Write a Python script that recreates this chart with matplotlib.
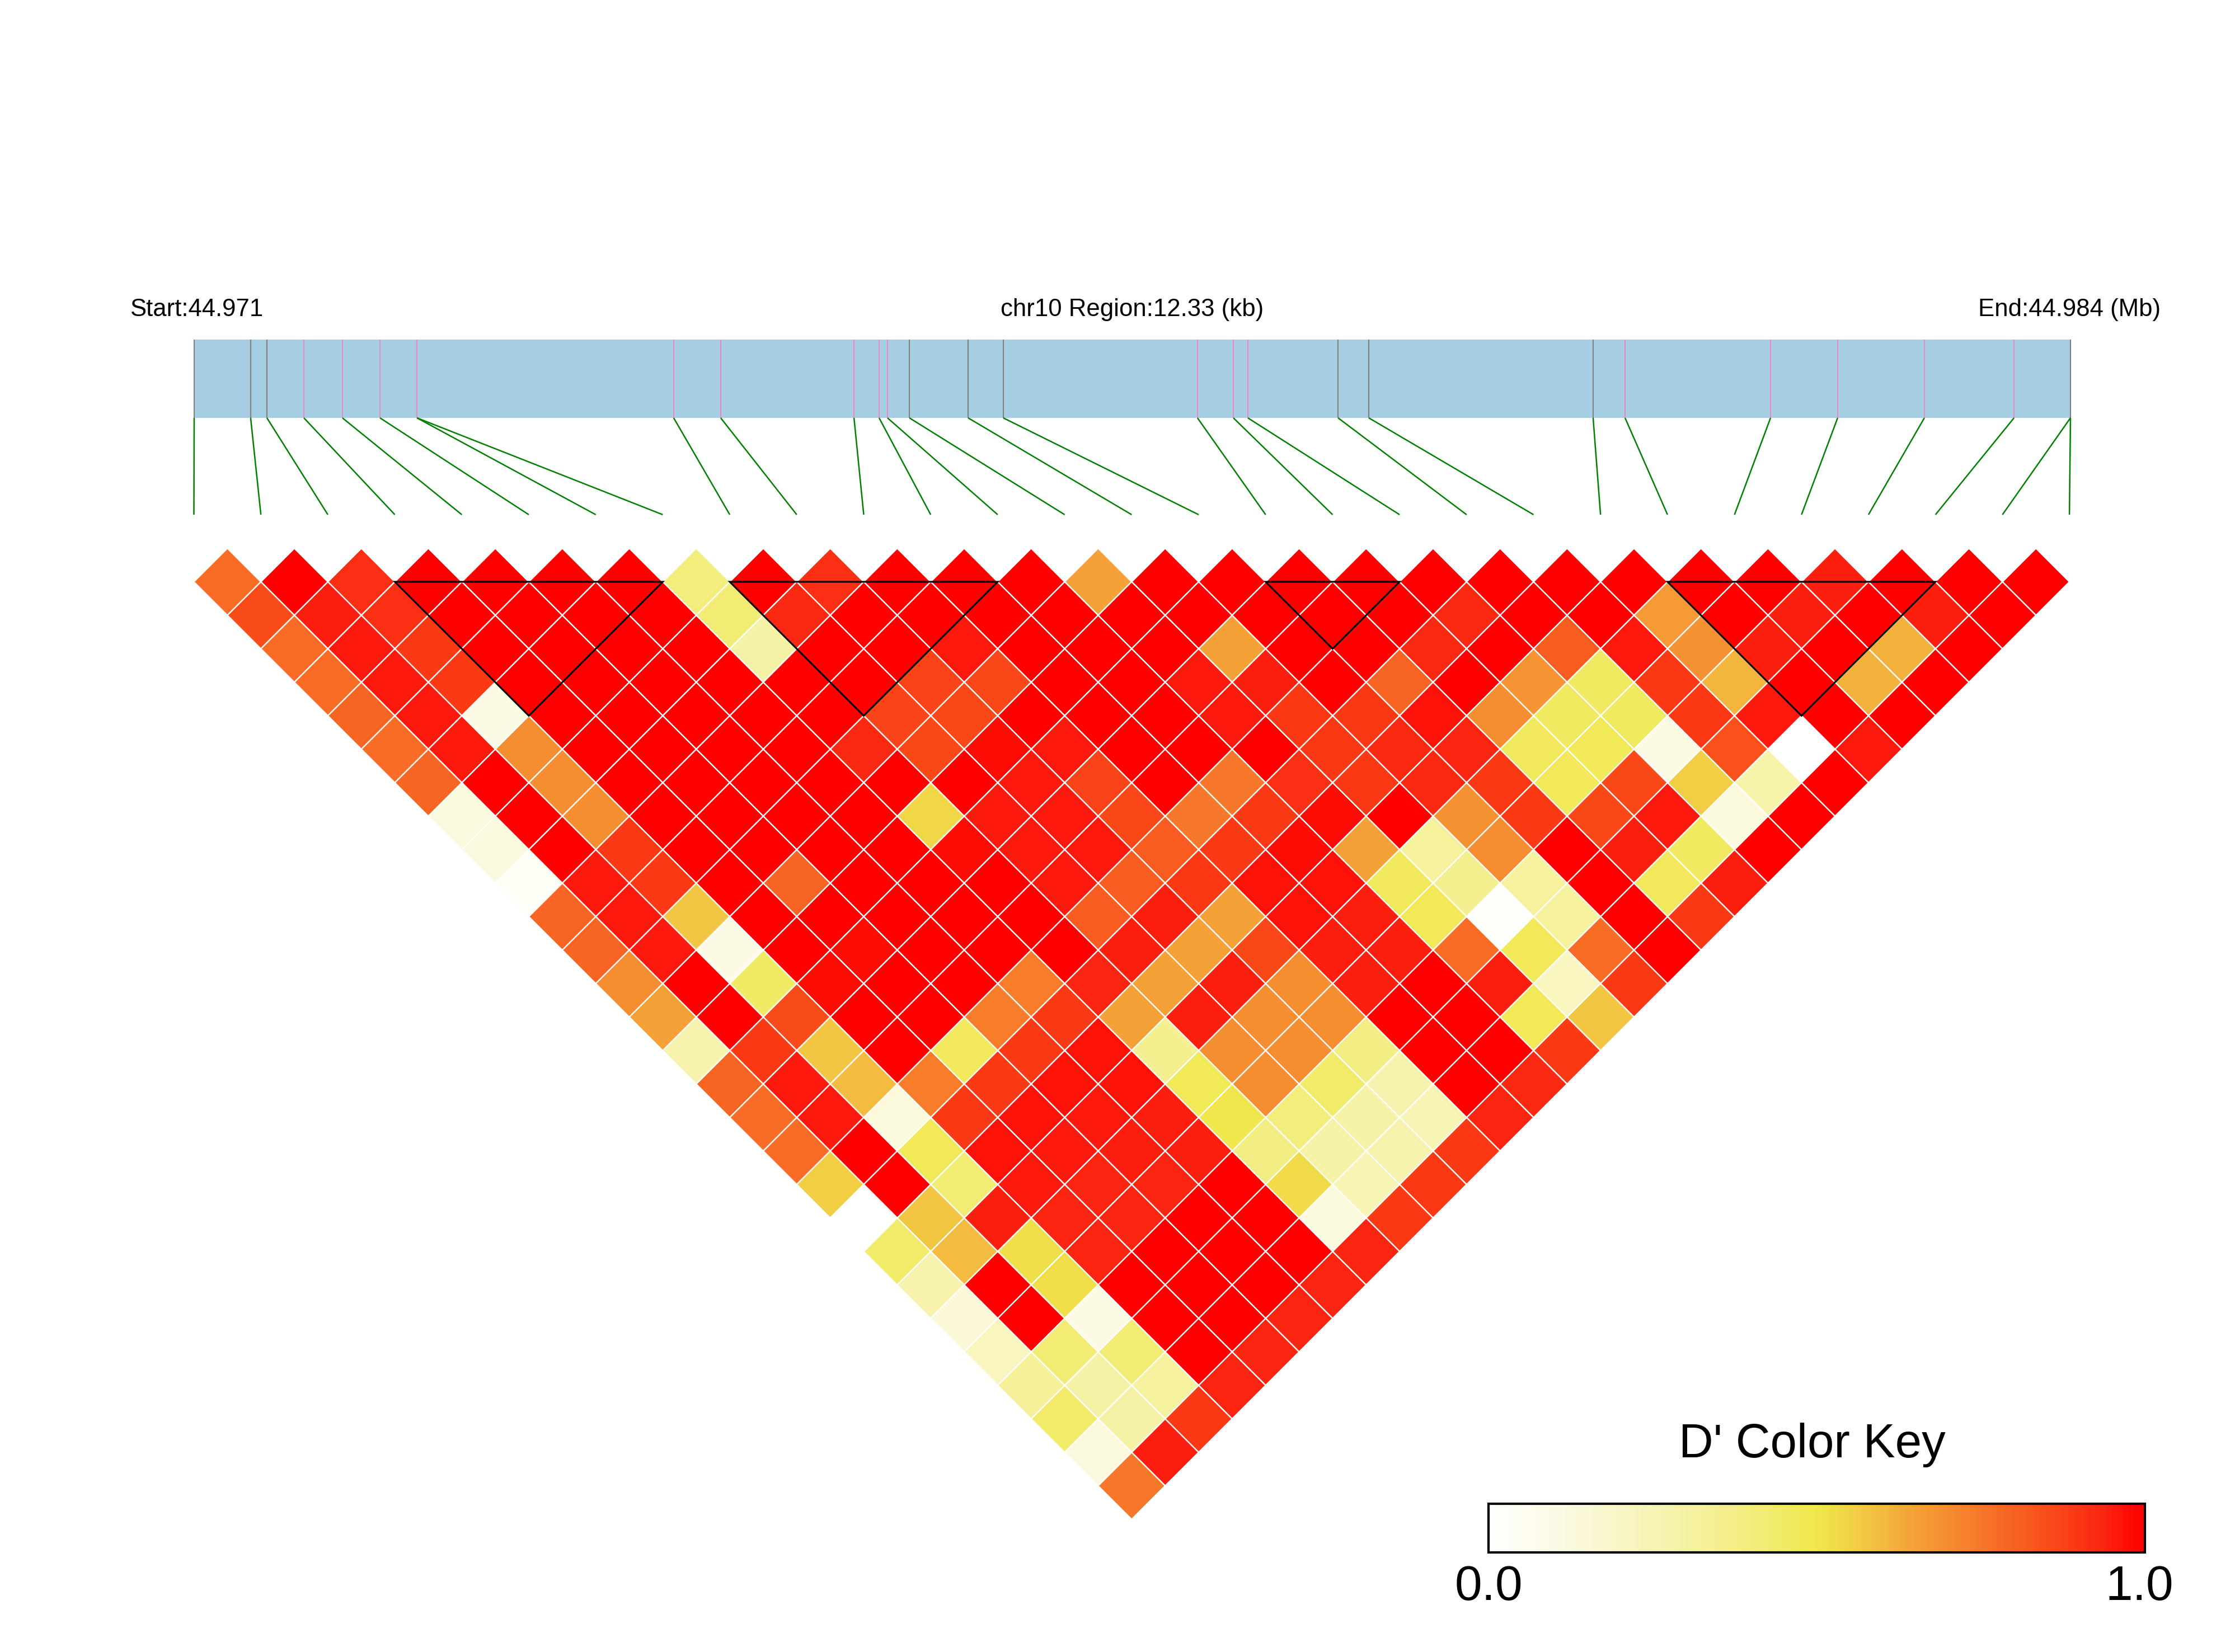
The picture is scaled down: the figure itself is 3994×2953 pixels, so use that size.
import numpy as np
import matplotlib
matplotlib.use("Agg")
import matplotlib.pyplot as plt
from matplotlib.collections import PolyCollection, LineCollection
from matplotlib.patches import Rectangle, Polygon
from matplotlib.colors import LinearSegmentedColormap

plt.rcParams['font.family'] = ['Liberation Sans', 'DejaVu Sans']

# ---------------- data ----------------
chrom = "chr10"
start_mb = 44.971
end_mb = 44.984
region_kb = 12.33

# SNP offsets from region start (kb)
snp_offsets_kb = [0.000, 0.371, 0.478, 0.721, 0.974, 1.221, 1.464, 1.464, 3.151, 3.460,
                  4.336, 4.501, 4.556, 4.700, 5.086, 5.317, 6.593, 6.829, 6.924, 7.517,
                  7.719, 9.193, 9.403, 10.359, 10.800, 11.370, 11.959, 12.330, 12.330]
snp_mark = ['grey', 'grey', 'grey', 'pink', 'pink', 'pink', 'pink', 'pink', 'pink', 'pink',
            'pink', 'pink', 'pink', 'grey', 'grey', 'grey', 'pink', 'pink', 'pink', 'grey',
            'grey', 'grey', 'pink', 'pink', 'pink', 'pink', 'pink', 'grey', 'grey']

# D' values by SNP distance d: entry i is pair (i, i+d)
ld_d01 = [0.78, 1.0, 0.92, 1.0, 1.0, 1.0, 1.0, 0.40, 1.0, 0.92, 1.0, 1.0, 1.0, 0.65, 1.0, 1.0, 1.0, 1.0, 1.0, 1.0, 1.0, 1.0, 1.0, 1.0, 0.95, 1.0, 1.0, 1.0]
ld_d02 = [0.86, 0.95, 0.92, 1.0, 1.0, 1.0, 1.0, 0.42, 0.93, 1.0, 1.0, 1.0, 1.0, 1.0, 1.0, 1.0, 1.0, 1.0, 0.93, 1.0, 1.0, 0.67, 1.0, 0.95, 1.0, 0.95, 1.0]
ld_d03 = [0.78, 0.96, 0.90, 1.0, 1.0, 1.0, 1.0, 0.30, 1.0, 1.0, 0.96, 1.0, 1.0, 1.0, 0.65, 1.0, 1.0, 0.93, 1.0, 0.82, 0.96, 0.69, 0.95, 1.0, 0.62, 1.0]
ld_d04 = [0.78, 0.96, 0.90, 1.0, 1.0, 1.0, 1.0, 1.0, 1.0, 0.88, 0.87, 1.0, 1.0, 0.96, 0.95, 1.0, 0.80, 1.0, 0.68, 0.46, 0.90, 0.61, 1.0, 0.62, 1.0]
ld_d05 = [0.80, 0.96, 0.10, 1.0, 1.0, 1.0, 1.0, 1.0, 0.88, 0.87, 1.0, 1.0, 1.0, 0.96, 0.90, 0.90, 0.97, 0.70, 0.46, 0.46, 0.90, 0.96, 1.0, 1.0]
ld_d06 = [0.78, 0.96, 0.70, 1.0, 1.0, 1.0, 1.0, 0.93, 0.87, 0.98, 0.96, 1.0, 1.0, 1.0, 0.90, 0.93, 0.94, 0.47, 0.48, 0.10, 0.85, 0.0, 0.96]
ld_d07 = [0.80, 1.0, 0.70, 1.0, 1.0, 1.0, 1.0, 1.0, 1.0, 0.96, 0.88, 1.0, 0.75, 0.92, 0.90, 0.93, 0.90, 0.48, 0.87, 0.56, 0.28, 1.0]
ld_d08 = [0.12, 1.0, 0.70, 1.0, 1.0, 1.0, 1.0, 0.54, 0.96, 0.96, 0.87, 0.75, 0.90, 0.98, 1.0, 0.69, 0.90, 0.87, 0.96, 0.12, 1.0]
ld_d09 = [0.12, 1.0, 0.90, 1.0, 1.0, 1.0, 1.0, 0.98, 0.96, 0.96, 0.82, 0.90, 0.98, 0.65, 0.32, 0.70, 1.0, 0.95, 0.46, 1.0]
ld_d10 = [0.03, 0.96, 0.90, 1.0, 0.80, 1.0, 1.0, 1.0, 0.96, 0.82, 0.90, 0.97, 0.97, 0.47, 0.35, 0.32, 1.0, 0.47, 0.95]
ld_d11 = [0.80, 0.96, 0.58, 1.0, 1.0, 1.0, 1.0, 1.0, 0.82, 0.95, 0.65, 0.97, 0.95, 0.48, 0.02, 0.32, 1.0, 0.90]
ld_d12 = [0.80, 0.96, 0.10, 1.0, 0.98, 1.0, 1.0, 1.0, 0.95, 0.65, 0.87, 0.95, 0.95, 0.78, 0.48, 0.78, 1.0]
ld_d13 = [0.70, 1.0, 0.45, 0.98, 1.0, 1.0, 0.74, 0.94, 0.65, 0.95, 0.70, 0.95, 1.0, 0.95, 0.22, 0.90]
ld_d14 = [0.65, 1.0, 0.86, 1.0, 1.0, 0.74, 0.90, 0.65, 0.95, 0.70, 0.70, 1.0, 1.0, 0.48, 0.58]
ld_d15 = [0.27, 0.90, 0.58, 1.0, 0.47, 0.90, 0.97, 0.35, 0.70, 0.70, 0.38, 1.0, 1.0, 0.90]
ld_d16 = [0.80, 0.96, 0.60, 0.74, 0.90, 0.97, 0.97, 0.48, 0.70, 0.44, 0.27, 1.0, 0.93]
ld_d17 = [0.78, 0.96, 0.13, 0.90, 0.97, 0.96, 0.95, 0.50, 0.40, 0.30, 0.25, 0.94]
ld_d18 = [0.78, 1.0, 0.48, 0.97, 0.96, 0.95, 0.95, 0.38, 0.30, 0.27, 0.90]
ld_d19 = [0.56, 1.0, 0.42, 0.96, 0.94, 0.94, 1.0, 0.53, 0.25, 0.90]
ld_d20 = [0.0, 0.58, 0.95, 0.94, 0.94, 1.0, 1.0, 0.12, 0.90]
ld_d21 = [0.44, 0.60, 0.52, 0.94, 1.0, 1.0, 1.0, 0.94]
ld_d22 = [0.27, 1.0, 0.52, 1.0, 1.0, 1.0, 0.94]
ld_d23 = [0.15, 1.0, 0.10, 1.0, 1.0, 0.94]
ld_d24 = [0.22, 0.42, 0.42, 1.0, 0.94]
ld_d25 = [0.33, 0.30, 0.32, 0.94]
ld_d26 = [0.44, 0.30, 0.90]
ld_d27 = [0.12, 0.95]
ld_d28 = [0.75]

# haplotype blocks (first SNP index, last SNP index)
blocks = [(3, 7), (8, 12), (16, 18), (22, 26)]

diagonals = [ld_d01, ld_d02, ld_d03, ld_d04, ld_d05, ld_d06, ld_d07, ld_d08, ld_d09, ld_d10,
             ld_d11, ld_d12, ld_d13, ld_d14, ld_d15, ld_d16, ld_d17, ld_d18, ld_d19, ld_d20,
             ld_d21, ld_d22, ld_d23, ld_d24, ld_d25, ld_d26, ld_d27, ld_d28]

# ---------------- style / layout ----------------
W, H = 3994, 2953
DPI = 300
fig = plt.figure(figsize=(W / DPI, H / DPI), dpi=DPI)
ax = fig.add_axes([0, 0, 1, 1])
ax.set_xlim(0, W)
ax.set_ylim(H, 0)
ax.axis('off')

cmap = LinearSegmentedColormap.from_list('dkey', [
    (0.00, '#FFFFFF'), (0.15, '#FAF8D6'), (0.30, '#F6F2A4'), (0.42, '#F2EC74'),
    (0.50, '#F0E84C'), (0.57, '#F2CA44'), (0.65, '#F4A238'), (0.72, '#F6862E'),
    (0.80, '#F86424'), (0.88, '#FA4418'), (0.95, '#FC2010'), (1.00, '#FF0000')])

n = len(snp_offsets_kb)
col_x0 = 346.5
half = 59.85
row_y0 = 1040.0
bar_l, bar_r = 347.0, 3700.0
bar_top, bar_bot = 607.0, 747.0
link_bot = 920.0
pink = '#E889BF'
grey = '#808080'

# header texts
ax.text(232, 565, f"Start:{start_mb:.3f}", ha='left', va='baseline', fontsize=10.5)
ax.text(2023, 565, f"{chrom} Region:{region_kb:.2f} (kb)", ha='center', va='baseline', fontsize=10.5)
ax.text(3861, 565, f"End:{end_mb:.3f} (Mb)", ha='right', va='baseline', fontsize=10.5)

# gene bar
ax.add_patch(Rectangle((bar_l, bar_top), bar_r - bar_l, bar_bot - bar_top,
                       facecolor='#A6CEE3', edgecolor='none', zorder=1))
bar_x = [bar_l + o / region_kb * (bar_r - bar_l) for o in snp_offsets_kb]
col_x = [col_x0 + 2 * half * k for k in range(n)]
vlines = [[(bx, bar_top), (bx, bar_bot)] for bx in bar_x]
vcols = [pink if m == 'pink' else grey for m in snp_mark]
ax.add_collection(LineCollection(vlines, colors=vcols, linewidths=0.5, zorder=2))
links = [[(bx, bar_bot), (cx, link_bot)] for bx, cx in zip(bar_x, col_x)]
ax.add_collection(LineCollection(links, colors='#008000', linewidths=0.6, zorder=2))

# LD diamonds
polys, vals = [], []
for d, diag in enumerate(diagonals, start=1):
    for i, v in enumerate(diag):
        j = i + d
        cx = col_x0 + half * (i + j)
        cy = row_y0 + half * (j - i - 1)
        polys.append([(cx - half, cy), (cx, cy - half), (cx + half, cy), (cx, cy + half)])
        vals.append(v)
pc = PolyCollection(polys, facecolors=cmap(np.array(vals)), edgecolors='white',
                    linewidths=0.55, zorder=3)
ax.add_collection(pc)

# block triangles
for a, b in blocks:
    tri = [(col_x[a], row_y0), (col_x[b], row_y0),
           (col_x0 + half * (a + b), row_y0 + half * (b - a))]
    ax.add_patch(Polygon(tri, closed=True, fill=False, edgecolor='black',
                         linewidth=0.75, zorder=4))

# colour key
cb_l, cb_r, cb_t, cb_b = 2660, 3833, 2688, 2775
grad = np.linspace(0, 1, 120)[None, :]
ax.imshow(grad, extent=[cb_l, cb_r, cb_b, cb_t], cmap=cmap, aspect='auto',
          interpolation='nearest', zorder=3)
ax.add_patch(Rectangle((cb_l, cb_t), cb_r - cb_l, cb_b - cb_t, fill=False,
                       edgecolor='black', linewidth=1.0, zorder=4))
ax.text((cb_l + cb_r) / 2 - 8, 2605, "D' Color Key", ha='center', va='baseline', fontsize=20.5)
ax.text(cb_l, 2860, "0.0", ha='center', va='baseline', fontsize=21)
ax.text(cb_r - 10, 2860, "1.0", ha='center', va='baseline', fontsize=21)

ax.set_xlim(0, W)
ax.set_ylim(H, 0)
fig.savefig('out.png', dpi=DPI, facecolor='white')
